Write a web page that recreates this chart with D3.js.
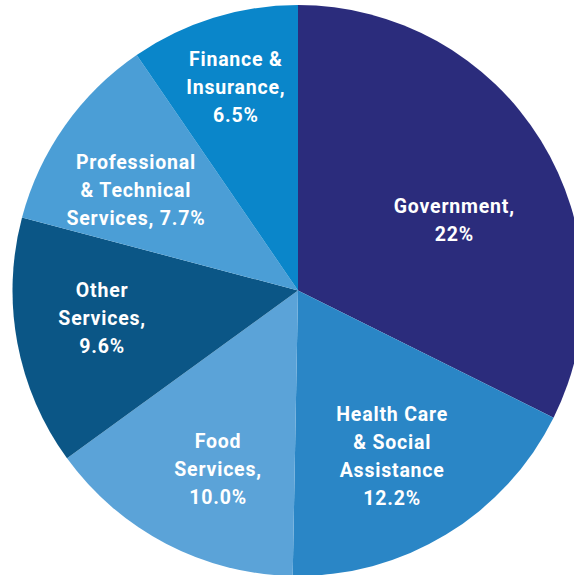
<!DOCTYPE html>
<html>
<head>
<meta charset="utf-8">
<script src="https://cdn.jsdelivr.net/npm/d3@7"></script>
<style>
  html, body { margin: 0; padding: 0; background: #ffffff; }
  svg { display: block; }
  .slice-label { font-family: "Roboto", "Open Sans", sans-serif; font-weight: 700; fill: #ffffff; }
</style>
</head>
<body>
<svg id="chart" width="574" height="575"></svg>
<script>
// Share of employment by industry
const categories = [
  "Government",
  "Health Care & Social Assistance",
  "Food Services",
  "Other Services",
  "Professional & Technical Services",
  "Finance & Insurance"
];
const shares = [22, 12.2, 10.0, 9.6, 7.7, 6.5];
const valueLabels = ["22%", "12.2%", "10.0%", "9.6%", "7.7%", "6.5%"];
const labelLines = [
  ["Government,", "22%"],
  ["Health Care", "& Social", "Assistance", "12.2%"],
  ["Food", "Services,", "10.0%"],
  ["Other", "Services,", "9.6%"],
  ["Professional", "& Technical", "Services, 7.7%"],
  ["Finance &", "Insurance,", "6.5%"]
];
const sliceColors = ["#2b2c7c", "#2a86c6", "#5ba3d8", "#0b5686", "#4b9ed6", "#0a86ca"];

// label anchor: fraction of radius and angular nudge (degrees) from slice middle
const labelRadiusFrac = [0.60, 0.667, 0.685, 0.693, 0.668, 0.745];
const labelAngleNudge = [7.6, 1.6, -3.4, 2.5, -3.4, 0.2];

const svg = d3.select("#chart");
const cx = 298, cy = 290.5, radius = 285.5;
const fontSize = 19.5, lineHeight = 27.8;

const data = categories.map((c, i) => ({ category: c, value: shares[i], index: i }));

const pie = d3.pie().value(d => d.value).sort(null).startAngle(0).endAngle(2 * Math.PI);
const arc = d3.arc().innerRadius(0).outerRadius(radius);
const color = d3.scaleOrdinal().domain(categories).range(sliceColors);

const g = svg.append("g").attr("transform", `translate(${cx},${cy})`);
const arcs = pie(data);

g.selectAll("path.slice")
  .data(arcs)
  .join("path")
  .attr("class", "slice")
  .attr("d", arc)
  .attr("fill", d => color(d.data.category));

const labels = g.selectAll("text.slice-label")
  .data(arcs)
  .join("text")
  .attr("class", "slice-label")
  .attr("text-anchor", "middle")
  .attr("font-size", fontSize)
  .attr("letter-spacing", "0.8px")
  .attr("transform", d => {
    const i = d.data.index;
    const mid = (d.startAngle + d.endAngle) / 2 + labelAngleNudge[i] * Math.PI / 180;
    const r = radius * labelRadiusFrac[i];
    return `translate(${r * Math.sin(mid)},${-r * Math.cos(mid)})`;
  });

labels.each(function(d) {
  const lines = labelLines[d.data.index];
  const n = lines.length;
  d3.select(this).selectAll("tspan")
    .data(lines)
    .join("tspan")
    .attr("x", 0)
    .attr("y", (l, k) => (k - (n - 1) / 2) * lineHeight)
    .attr("dy", "0.35em")
    .text(l => l);
});
</script>
</body>
</html>
